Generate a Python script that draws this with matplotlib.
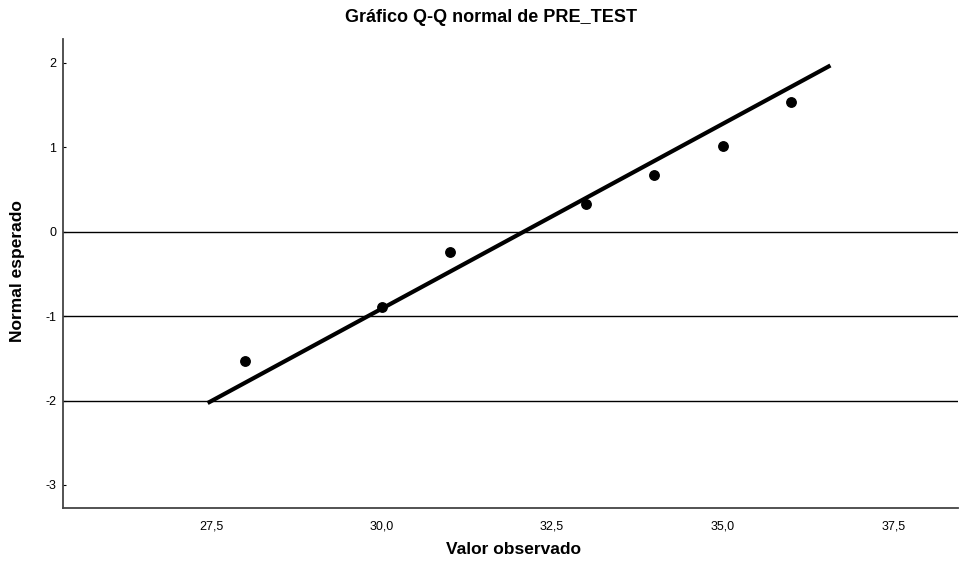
import matplotlib
matplotlib.use('Agg')
import matplotlib.pyplot as plt

plt.rcParams['font.family'] = ['Liberation Sans', 'DejaVu Sans']
plt.rcParams['axes.unicode_minus'] = False

# observed values and expected normal scores
obs = [28, 30, 31, 33, 34, 35, 36]
expected = [-1.537, -0.894, -0.242, 0.324, 0.668, 1.012, 1.535]

# reference line end points
line_x = [27.45, 36.58]
line_y = [-2.03, 1.97]

xticks = [27.5, 30.0, 32.5, 35.0, 37.5]
xtick_labels = ['27,5', '30,0', '32,5', '35,0', '37,5']
yticks = [-3, -2, -1, 0, 1, 2]
ref_lines = [0, -1, -2]

fig = plt.figure(figsize=(9.59, 5.65), dpi=100)
ax = fig.add_axes([63/959, 1 - 507.7/565, (958 - 63)/959, (507.7 - 39.3)/565])

for h in ref_lines:
    ax.axhline(h, color='black', linewidth=1.0, zorder=1)

ax.plot(line_x, line_y, color='black', linewidth=3.0, solid_capstyle='butt', zorder=2)
ax.plot(obs, expected, 'o', color='black', markersize=6.8, zorder=3)

ax.set_xlim(25.33, 38.45)
ax.set_ylim(-3.27, 2.28)
ax.set_xticks(xticks)
ax.set_xticklabels(xtick_labels)
ax.set_yticks(yticks)
ax.tick_params(axis='x', length=0, pad=9, labelsize=9)
ax.tick_params(axis='y', direction='in', length=2, pad=5, labelsize=9)

ax.spines['top'].set_visible(False)
ax.spines['right'].set_visible(False)
for s in ['left', 'bottom']:
    ax.spines[s].set_color('#444444')
    ax.spines[s].set_linewidth(1.3)

fig.text(514/959, 1 - 550/565, 'Valor observado', ha='center', va='center',
         fontsize=12.5, fontweight='bold')
fig.text(18/959, 1 - 271/565, 'Normal esperado', ha='center', va='center',
         rotation=90, fontsize=12.5, fontweight='bold')
fig.text(491/959, 1 - 18/565, 'Gráfico Q-Q normal de PRE_TEST', ha='center', va='center',
         fontsize=13, fontweight='bold')

fig.savefig('out.png', dpi=100)
